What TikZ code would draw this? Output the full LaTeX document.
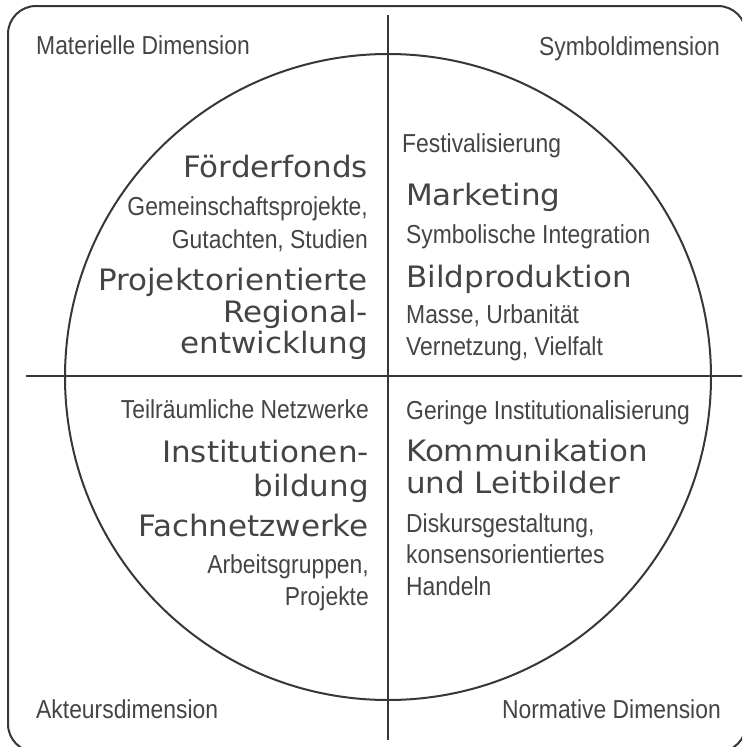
\documentclass[tikz,border=0pt]{standalone}
\usepackage{fontspec}
\setmainfont[FakeStretch=0.88]{Liberation Sans}
\newfontfamily\grossfont[FakeStretch=1.05]{DejaVu Sans}

\begin{document}
\begin{tikzpicture}[x=1pt, y=-1pt,
    linie/.style={draw=liniengrau, line width=2pt},
    klein/.style={font=\fontsize{26}{30}\selectfont, text=textgrau, inner sep=0pt},
    gross/.style={font=\grossfont\fontsize{29.5}{33}\selectfont, text=textgrau, inner sep=0pt}]
        % Farben
        \definecolor{liniengrau}{RGB}{55,55,55}
        \definecolor{textgrau}{RGB}{68,68,68}

        % Mittelpunkt und Radius des Kreises
        \def\mx{388}
        \def\my{377}
        \def\rad{323}

        \useasboundingbox (0,0) rectangle (742,747);
        \clip (0,0) rectangle (742,747);

        % Rahmen, Achsen, Kreis
        \draw[linie, rounded corners=28pt] (8,6) rectangle (746,752);
        \draw[linie] (\mx,15) -- (\mx,740);
        \draw[linie] (26,376) -- (746,376);
        \draw[linie] (\mx,\my) circle[radius=\rad pt];

        % Dimensionen in den Ecken
        \node[klein, anchor=base west] (matdim) at (36,54) {Materielle Dimension};
        \node[klein, anchor=base east] (symdim) at (720,55) {Symboldimension};
        \node[klein, anchor=base west] (aktdim) at (36,718) {Akteursdimension};
        \node[klein, anchor=base east] (normdim) at (721,718) {Normative Dimension};

        % Oben links
        \node[gross, anchor=base east] (foerder) at (368,177) {Förderfonds};
        \node[klein, anchor=base east] (gemein) at (368,215) {Gemeinschaftsprojekte,};
        \node[klein, anchor=base east] (gutacht) at (368,248) {Gutachten, Studien};
        \node[gross, anchor=base east] (projekt) at (368,290) {Projektorientierte};
        \node[gross, anchor=base east] (region) at (368,322) {Regional-};
        \node[gross, anchor=base east] (entw) at (368,353) {entwicklung};

        % Oben rechts
        \node[klein, anchor=base west] (festival) at (402,152) {Festivalisierung};
        \node[gross, anchor=base west] (marketing) at (406,205) {Marketing};
        \node[klein, anchor=base west] (symint) at (406,243) {Symbolische Integration};
        \node[gross, anchor=base west] (bildprod) at (406,287) {Bildproduktion};
        \node[klein, anchor=base west] (masse) at (406,323) {Masse, Urbanität};
        \node[klein, anchor=base west] (vernetz) at (406,355) {Vernetzung, Vielfalt};

        % Unten links
        \node[klein, anchor=base east] (teilraum) at (369,418) {Teilräumliche Netzwerke};
        \node[gross, anchor=base east] (instit) at (369,462) {Institutionen-};
        \node[gross, anchor=base east] (bildung) at (369,496) {bildung};
        \node[gross, anchor=base east] (fachnetz) at (369,536) {Fachnetzwerke};
        \node[klein, anchor=base east] (arbgr) at (369,573) {Arbeitsgruppen,};
        \node[klein, anchor=base east] (projekte) at (369,605) {Projekte};

        % Unten rechts
        \node[klein, anchor=base west] (gering) at (406,419) {Geringe Institutionalisierung};
        \node[gross, anchor=base west] (kommun) at (406,461) {Kommunikation};
        \node[gross, anchor=base west] (leitb) at (406,493) {und Leitbilder};
        \node[klein, anchor=base west] (diskurs) at (406,532) {Diskursgestaltung,};
        \node[klein, anchor=base west] (konsens) at (406,563) {konsensorientiertes};
        \node[klein, anchor=base west] (handeln) at (406,595) {Handeln};
    \end{tikzpicture}
\end{document}
